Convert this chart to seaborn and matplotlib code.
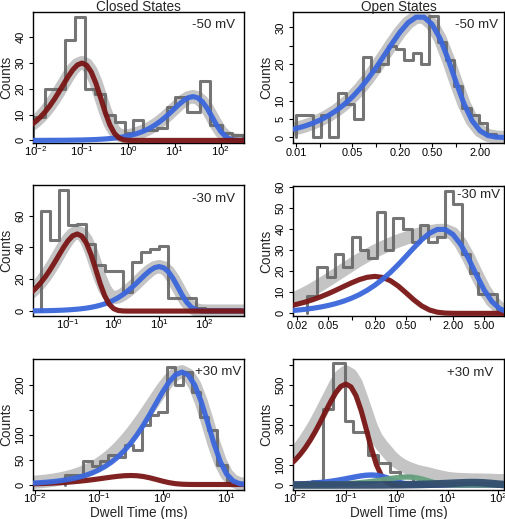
import numpy as np
import matplotlib
matplotlib.use("Agg")
import matplotlib.pyplot as plt
import seaborn as sns
from matplotlib.ticker import FixedLocator, FixedFormatter, NullLocator

# ---------------- data (x values are log10 of dwell time in ms) ----------------
# Panel 1: closed states, -50 mV
c50_edges = [-2.05, -1.8, -1.58, -1.367, -1.151, -0.935, -0.719, -0.503, -0.288, -0.072, 0.108,
             0.324, 0.612, 0.827, 1.007, 1.259, 1.547, 1.763, 2.014, 2.23, 2.482]
c50_counts = [9, 20, 20, 39, 48, 20, 18, 10, 7, 3, 8, 4, 5, 13, 17, 11, 23, 6, 3, 2]
c50_grid = np.round(np.linspace(-2.1, 2.6, 48), 2)
c50_red = [5.98, 7.38, 9.05, 11.03, 13.33, 15.93, 18.80, 21.80, 24.76, 27.38, 29.27, 30.00,
           29.15, 26.49, 22.12, 16.62, 10.92, 6.06, 2.72, 0.94, 0.23, 0.04] + [0] * 26
c50_blue = [0.01, 0.02, 0.02, 0.03, 0.04, 0.05, 0.06, 0.07, 0.09, 0.12, 0.15, 0.18, 0.23, 0.29,
            0.36, 0.46, 0.57, 0.72, 0.90, 1.13, 1.42, 1.77, 2.20, 2.74, 3.39, 4.18, 5.13, 6.25,
            7.55, 9.03, 10.65, 12.35, 14.03, 15.51, 16.59, 17.00, 16.52, 15.01, 12.54, 9.42,
            6.19, 3.43, 1.54, 0.53, 0.13, 0.02, 0, 0]

# Panel 2: open states, -50 mV
o50_edges = [-2.0, -1.896, -1.792, -1.688, -1.584, -1.48, -1.376, -1.272, -1.168, -1.064, -0.96,
             -0.856, -0.752, -0.648, -0.544, -0.44, -0.336, -0.232, -0.128, -0.024, 0.08, 0.184,
             0.288, 0.392, 0.496]
o50_counts = [6, 6, 0, 6, 0, 12, 9, 5, 22, 18, 20, 25, 24, 21, 23, 20, 33, 26, 21, 14, 8, 6, 4, 1]
o50_grid = np.round(np.linspace(-2.1, 0.7, 29), 2)
o50_blue = [1.96, 2.46, 3.07, 3.83, 4.77, 5.92, 7.31, 9.00, 11.00, 13.35, 16.05, 19.07, 22.32,
            25.63, 28.75, 31.29, 32.79, 32.77, 30.86, 26.95, 21.41, 15.09, 9.16, 4.60, 1.82,
            0.53, 0.11, 0.01, 0]

# Panel 3: closed states, -30 mV
c30_edges = [-1.6, -1.4, -1.2, -1.0, -0.8, -0.6, -0.4, -0.2, 0.0, 0.2, 0.4, 0.6, 0.8, 1.0, 1.2,
             1.4, 1.6, 1.8, 2.0, 2.2, 2.4, 2.6, 2.8]
c30_counts = [63, 45, 76, 54, 55, 42, 29, 25, 25, 12, 31, 37, 39, 41, 8, 8, 8, 2, 1, 1, 1, 1]
c30_grid = np.round(np.linspace(-1.8, 2.9, 48), 2)
c30_red = [11.93, 14.63, 17.83, 21.55, 25.76, 30.39, 35.24, 40.03, 44.26, 47.32, 48.50, 47.13,
           42.83, 35.76, 26.86, 17.65, 9.80, 4.40, 1.51, 0.37, 0.06] + [0] * 27
c30_blue = [0.12, 0.15, 0.19, 0.24, 0.30, 0.38, 0.48, 0.60, 0.75, 0.95, 1.19, 1.49, 1.86, 2.33,
            2.91, 3.63, 4.51, 5.58, 6.89, 8.45, 10.30, 12.44, 14.87, 17.54, 20.35, 23.11, 25.55,
            27.32, 28.00, 27.21, 24.73, 20.65, 15.51, 10.19, 5.66, 2.54, 0.87, 0.22, 0.03] + [0] * 9

# Panel 4: open states, -30 mV
o30_edges = [-1.575, -1.446, -1.318, -1.211, -1.104, -0.998, -0.891, -0.784, -0.677, -0.57,
             -0.463, -0.335, -0.228, -0.121, -0.014, 0.092, 0.199, 0.306, 0.413, 0.52, 0.626,
             0.755, 0.861, 0.968]
o30_counts = [8, 22, 17, 28, 22, 36, 30, 26, 48, 30, 45, 40, 34, 42, 34, 36, 58, 52, 28, 19, 9, 9, 2]
o30_grid = np.round(np.linspace(-1.8, 1.0, 29), 2)
o30_red = [3.49, 4.31, 5.28, 6.43, 7.77, 9.29, 10.97, 12.72, 14.44, 15.97, 17.07, 17.50, 17.01,
           15.45, 12.90, 9.69, 6.37, 3.54, 1.59, 0.55, 0.13, 0.02] + [0] * 7
o30_blue = [1.21, 1.51, 1.90, 2.38, 2.98, 3.72, 4.64, 5.78, 7.17, 8.86, 10.91, 13.34, 16.19,
            19.46, 23.12, 27.06, 31.07, 34.85, 37.92, 39.75, 39.73, 37.40, 32.66, 25.95, 18.30,
            11.10, 5.58, 2.21, 0.65]
o30_total = [6.0, 7.5, 9.3, 11.3, 13.5, 15.8, 18.2, 20.6, 23.0, 25.3, 27.4, 29.4, 31.2, 32.8,
             34.3, 35.6, 36.8, 37.8, 38.6, 39.2, 39.3, 37.8, 33.2, 26.5, 18.8, 11.5, 5.9, 2.4, 0.8]

# Panel 5: closed states, +30 mV
cp30_edges = [-1.531, -1.374, -1.244, -1.113, -0.983, -0.852, -0.722, -0.592, -0.461, -0.331,
              -0.2, -0.07, 0.061, 0.191, 0.321, 0.452, 0.582, 0.713, 0.843, 1.0, 1.13]
cp30_counts = [20, 20, 47, 38, 47, 60, 55, 80, 70, 120, 140, 145, 235, 200, 225, 185, 135, 110, 40, 8]
cp30_grid = np.round(np.linspace(-2.1, 1.3, 35), 2)
cp30_blue = [2.43, 3.05, 3.84, 4.82, 6.05, 7.60, 9.54, 11.96, 14.99, 18.74, 23.40, 29.15, 36.23,
             44.87, 55.35, 67.89, 82.73, 99.96, 119.50, 140.99, 163.51, 185.69, 205.34, 219.53,
             225.00, 218.66, 198.70, 165.92, 124.63, 81.90, 45.45, 20.41, 7.02, 1.73, 0.27]
cp30_red = [1.20, 1.50, 1.87, 2.33, 2.90, 3.59, 4.43, 5.43, 6.62, 8.00, 9.56, 11.28, 13.08, 14.86,
            16.43, 17.56, 18.00, 17.49, 15.90, 13.27, 9.97, 6.55, 3.64, 1.63, 0.56, 0.14, 0.02] + [0] * 8

# Panel 6: open states, +30 mV
op30_edges = [-1.67, -1.456, -1.246, -1.016, -0.852, -0.557, -0.36, -0.13, 0.067, 0.33, 0.9, 2.11]
op30_counts = [20, 380, 610, 320, 265, 150, 108, 67, 45, 15, 5]
op30_grid = np.round(np.linspace(-2.1, 2.2, 44), 2)
op30_red = [100.7, 124.2, 152.4, 185.7, 224.4, 268.2, 316.4, 367.0, 416.8, 460.9, 492.7, 505.0,
            490.8, 446.0, 372.4, 279.7, 183.8, 102.0, 45.8, 15.8, 3.9, 0.6] + [0] * 22
op30_blue = [3.33, 4.16, 5.20, 6.48, 8.05, 9.97, 12.30, 15.09, 18.39, 22.21, 26.56, 31.33, 36.34,
             41.27, 45.63, 48.79, 50.00, 48.59, 44.16, 36.87, 27.70, 18.20, 10.10, 4.54, 1.56,
             0.39, 0.06] + [0] * 17
op30_green = [0.54, 0.68, 0.86, 1.08, 1.35, 1.70, 2.13, 2.66, 3.33, 4.16, 5.18, 6.44, 7.98, 9.84,
              12.07, 14.71, 17.77, 21.24, 25.06, 29.07, 33.01, 36.50, 39.03, 40.00, 38.87, 35.32,
              29.50, 22.16, 14.56, 8.08, 3.63, 1.25, 0.31, 0.05] + [0] * 10
op30_navy = [0.01, 0.01, 0.01, 0.02, 0.02, 0.03, 0.03, 0.04, 0.05, 0.06, 0.08, 0.10, 0.13, 0.16,
             0.20, 0.26, 0.32, 0.41, 0.51, 0.64, 0.80, 1.00, 1.25, 1.55, 1.93, 2.39, 2.95, 3.62,
             4.41, 5.33, 6.37, 7.52, 8.72, 9.90, 10.95, 11.71, 12.00, 11.66, 10.60, 8.85, 6.65,
             4.37, 2.42, 1.09]
op30_total = [140, 160, 190, 225, 265, 308, 355, 405, 455, 505, 545, 565, 550, 510, 440, 365, 290,
              235, 200, 170, 140, 117, 100, 87, 77, 68, 62, 57, 50, 44, 38, 33, 30, 28, 27, 26, 25,
              25, 24, 24, 23, 22, 22, 21]

# tick positions / labels
dec_ticks = [0.01, 0.1, 1, 10, 100]
dec_labels = ["$10^{-2}$", "$10^{-1}$", "$10^{0}$", "$10^{1}$", "$10^{2}$"]
o50_xticks = [0.01, 0.02, 0.05, 0.1, 0.2, 0.5, 1, 2]
o50_xlabels = ["0.01", "", "0.05", "", "0.20", "0.50", "", "2.00"]
o30_xticks = [0.02, 0.05, 0.1, 0.2, 0.5, 1, 2, 5]
o30_xlabels = ["0.02", "0.05", "", "0.20", "0.50", "", "2.00", "5.00"]

# ---------------- style ----------------
sns.set_style("ticks")
plt.rcParams["font.family"] = ["Liberation Sans", "DejaVu Sans"]
plt.rcParams["mathtext.fontset"] = "custom"
plt.rcParams["mathtext.rm"] = "Liberation Sans"
plt.rcParams["mathtext.it"] = "Liberation Sans:italic"
plt.rcParams["mathtext.bf"] = "Liberation Sans:bold"
plt.rcParams["axes.unicode_minus"] = False

BAND = "#c4c4c4"
HIST = "#666666"
RED = "#7a1616"
BLUE = "#3b66dc"
GREEN = "#66a17f"
NAVY = "#324d6e"

W, H = 506, 519
fig = plt.figure(figsize=(W / 100, H / 100), dpi=100)


def px_rect(left, top, width, height):
    return [left / W, 1 - (top + height) / H, width / W, height / H]


def steps(edges, counts):
    xs, ys = [edges[0]], [0]
    for i, c in enumerate(counts):
        xs += [edges[i], edges[i + 1]]
        ys += [c, c]
    xs.append(edges[-1])
    ys.append(0)
    return 10 ** np.array(xs), np.array(ys, dtype=float)


def line(ax, grid, vals, color, lw, z, alpha=1.0):
    sns.lineplot(x=10 ** np.asarray(grid), y=np.asarray(vals, dtype=float), ax=ax, color=color,
                 lw=lw, estimator=None, sort=False, zorder=z, alpha=alpha, legend=False)


def panel(rect, xlim, ylim, grid, total, edges, counts, comps, xticks, xlabels, yticks, ylabels,
          label, lab_inset, lab_dy, mathx):
    ax = fig.add_axes(px_rect(*rect))
    ax.set_xscale("log")
    line(ax, grid, total, BAND, 9.5, 1)
    hx, hy = steps(edges, counts)
    sns.lineplot(x=hx, y=hy, ax=ax, color=HIST, lw=2.2, estimator=None, sort=False,
                 zorder=2, alpha=0.9, legend=False)
    for i, (vals, col, lw) in enumerate(comps):
        line(ax, grid, vals, col, lw, 3 + i, alpha=0.95)
    ax.set_xlim(10 ** xlim[0], 10 ** xlim[1])
    ax.set_ylim(*ylim)
    ax.xaxis.set_major_locator(FixedLocator(xticks))
    ax.xaxis.set_major_formatter(FixedFormatter(xlabels))
    ax.xaxis.set_minor_locator(NullLocator())
    ax.yaxis.set_major_locator(FixedLocator(yticks))
    ax.yaxis.set_major_formatter(FixedFormatter(ylabels))
    ax.set_xlabel("")
    ax.set_ylabel("")
    for s in ax.spines.values():
        s.set_linewidth(1.0)
        s.set_color("black")
    ax.tick_params(axis="both", direction="out", length=3, width=0.8, colors="black",
                   labelsize=8)
    ax.tick_params(axis="x", pad=(-2.2 if mathx else 0.4),
                   labelsize=(8.2 if mathx else 7.9))
    ax.tick_params(axis="y", pad=2.4)
    for lbl in ax.get_yticklabels():
        lbl.set_rotation(90)
        lbl.set_va("center")
        lbl.set_ha("right")
    ax.text(1 - lab_inset / 211, 1 - lab_dy / 131, label, transform=ax.transAxes,
            ha="right", va="center", fontsize=9.6, zorder=10)
    l, t, w, h = rect
    fig.text((l - 26.5) / W, 1 - (t + h / 2) / H, "Counts", rotation=90, ha="center",
             va="center", fontsize=9.8)
    return ax


c50_total = np.add(c50_red, c50_blue)
c30_total = np.add(c30_red, c30_blue)
cp30_total = np.add(cp30_red, cp30_blue)

# Row 1
panel((33, 12, 211, 131), (-2.06, 2.50), (-1.0, 49.8), c50_grid, c50_total, c50_edges, c50_counts,
      [(c50_blue, BLUE, 3.7), (c50_red, RED, 3.7)], dec_ticks, dec_labels,
      [0, 10, 20, 30, 40], ["0", "10", "20", "30", "40"], "-50 mV", 9, 13, True)
panel((293, 12, 211, 131), (-2.04, 0.60), (-1.5, 34.2), o50_grid, o50_blue, o50_edges, o50_counts,
      [(o50_blue, BLUE, 3.7)], o50_xticks, o50_xlabels,
      [0, 5, 10, 15, 20, 25, 30], ["0", "5", "10", "", "20", "", "30"], "-50 mV", 6, 13, False)
# Row 2
panel((33, 185, 211, 131), (-1.77, 2.86), (-3.1, 79.3), c30_grid, c30_total, c30_edges, c30_counts,
      [(c30_blue, BLUE, 3.7), (c30_red, RED, 3.7)], dec_ticks[1:], dec_labels[1:],
      [0, 20, 40, 60], ["0", "20", "40", "60"], "-30 mV", 9, 14, True)
panel((293, 186, 211, 130), (-1.75, 0.955), (-1.25, 60.3), o30_grid, o30_total, o30_edges, o30_counts,
      [(o30_red, RED, 3.7), (o30_blue, BLUE, 3.7)], o30_xticks, o30_xlabels,
      [0, 10, 20, 30, 40, 50, 60], ["0", "10", "20", "30", "40", "50", "60"], "-30 mV", 4, 9.5, False)
# Row 3
panel((33, 359, 211, 131), (-2.03, 1.27), (-11, 251), cp30_grid, cp30_total, cp30_edges, cp30_counts,
      [(cp30_red, RED, 3.7), (cp30_blue, BLUE, 3.7)], dec_ticks[:4], dec_labels[:4],
      [0, 50, 100, 150, 200], ["0", "50", "100", "", "200"], "+30 mV", 2.3, 12.7, True)
panel((293, 359, 211, 131), (-2.04, 2.11), (-25, 630), op30_grid, op30_total, op30_edges, op30_counts,
      [(op30_red, RED, 3.7), (op30_blue, BLUE, 3.9), (op30_green, GREEN, 3.9), (op30_navy, NAVY, 5.5)],
      dec_ticks, dec_labels,
      [0, 100, 200, 300, 400, 500, 600], ["0", "100", "", "300", "", "500", ""], "+30 mV", 11, 13.5, True)

# titles and x labels
fig.text(138.5 / W, 1 - 6.7 / H, "Closed States", ha="center", va="center", fontsize=9.8)
fig.text(398.5 / W, 1 - 6.7 / H, "Open States", ha="center", va="center", fontsize=9.8)
fig.text(138.5 / W, 1 - 513 / H, "Dwell Time (ms)", ha="center", va="center", fontsize=9.8)
fig.text(398.5 / W, 1 - 513 / H, "Dwell Time (ms)", ha="center", va="center", fontsize=9.8)

fig.savefig("out.png", dpi=100)
